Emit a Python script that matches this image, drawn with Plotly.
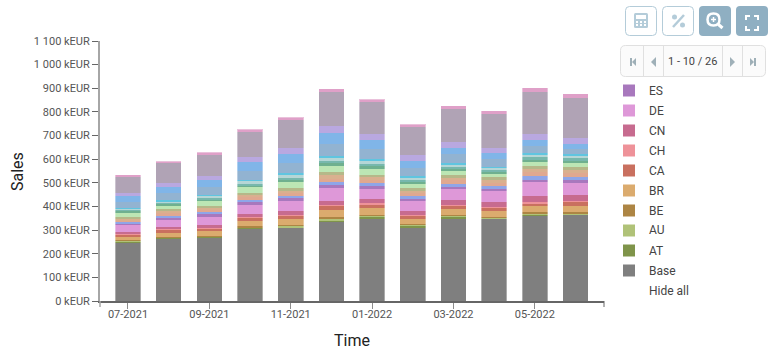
import plotly.graph_objects as go

W, H = 774, 360
months = ["07-2021","08-2021","09-2021","10-2021","11-2021","12-2021","01-2022","02-2022","03-2022","04-2022","05-2022","06-2022"]
tick_months = ["07-2021","09-2021","11-2021","01-2022","03-2022","05-2022"]
y_ticks = [0,100,200,300,400,500,600,700,800,900,1000,1100]
y_labels = ["0 kEUR","100 kEUR","200 kEUR","300 kEUR","400 kEUR","500 kEUR","600 kEUR","700 kEUR","800 kEUR","900 kEUR","1 000 kEUR","1 100 kEUR"]

Base = [247,263,268,306,310,338,351,313,351,347,362,364]
AT = [6,4,3,4,3,4,8,7,7,4,4,4]
AU = [1.5,1.5,1.5,3,7,6,3,4,3,3,3,3]
BE = [4,1.5,4,3,3,7,3,3,3,3,7,6]
BR = [14,18,20,22,24,30,28,20,25,24,24,27]
CA = [10,13,11,14,14,18,17,14,15,14,14,15]
CH = [3,4,3,3,4,4,4,4,4,3,4,4]
CN = [7,7,13,13,17,17,17,17,20,20,25,24]
DE = [30,34,34,39,42,52,41,42,45,48,60,53]
ES = [6,8,10,11,11,13,14,7,11,8,11,11]
FI = [6,6,10,10,11,15,13,13,11,13,13,13]
FR = [8,11,8,13,11,14,14,13,15,13,17,18]
GB = [4,10,7,7,10,14,11,8,11,11,15,13]
HK = [10,7,10,10,13,13,11,13,10,14,11,13]
IE = [20,15,22,25,24,27,27,20,21,15,17,17]
IN = [7,8,6,7,10,10,8,7,8,7,10,8]
IT = [3,6,7,7,8,11,11,10,8,10,11,10]
JP = [3,6,7,13,14,14,15,8,11,7,11,11]
KR = [4,4,6,4,6,6,4,4,4,4,7,6]
MX = [27,28,32,35,41,51,41,35,37,32,30,22]
NL = [22,27,31,38,39,45,42,30,28,25,24,22]
NO = [13,18,15,21,24,30,25,24,25,24,28,25]
SE = [72,84,91,111,120,146,132,121,141,142,177,170]
SG = [7,8,10,8,11,14,13,11,13,14,17,17]

series = [
    ("Base",Base,"#7f7f7f"),("AT",AT,"#7f944a"),("AU",AU,"#b0c278"),("BE",BE,"#ad8544"),
    ("BR",BR,"#dbab6e"),("CA",CA,"#c9705f"),("CH",CH,"#ee9299"),("CN",CN,"#c76b8f"),
    ("DE",DE,"#de98d8"),("ES",ES,"#a878bd"),("FI",FI,"#8fa5e8"),("FR",FR,"#e0a890"),
    ("GB",GB,"#d9b08f"),("HK",HK,"#b5b889"),("IE",IE,"#bce6b4"),("IN",IN,"#6fb08f"),
    ("IT",IT,"#77b8ad"),("JP",JP,"#b5d6d6"),("KR",KR,"#5fc5e0"),("MX",MX,"#92b3d1"),
    ("NL",NL,"#80b5e8"),("NO",NO,"#b9a8e0"),("SE",SE,"#b0a3b5"),("SG",SG,"#dfa0c8"),
]
legend_names = ["ES","DE","CN","CH","CA","BR","BE","AU","AT","Base"]
colors = {n:c for n,_,c in series}

fig = go.Figure()
for n, v, c in series:
    fig.add_bar(x=months, y=v, name=n, marker=dict(color=c, line=dict(width=0)), width=0.63, showlegend=False)
totals = [sum(v[i] for _, v, _c in series) for i in range(len(months))]
fig.add_bar(x=months, y=totals, name="edge", yaxis="y2", width=0.63, showlegend=False, hoverinfo="skip",
            marker=dict(color="rgba(0,0,0,0)", line=dict(width=1, color="rgba(255,255,255,0.35)")))

def px(x): return x/W
def py(y): return 1-y/H
def rrect(x0,y0,x1,y1,r):
    return (f"M{px(x0+r)},{py(y0)} L{px(x1-r)},{py(y0)} Q{px(x1)},{py(y0)} {px(x1)},{py(y0+r)} "
            f"L{px(x1)},{py(y1-r)} Q{px(x1)},{py(y1)} {px(x1-r)},{py(y1)} L{px(x0+r)},{py(y1)} "
            f"Q{px(x0)},{py(y1)} {px(x0)},{py(y1-r)} L{px(x0)},{py(y0+r)} Q{px(x0)},{py(y0)} {px(x0+r)},{py(y0)} Z")
shapes=[]
def path(d, fill="rgba(0,0,0,0)", line=None, lw=1):
    shapes.append(dict(type="path", xref="paper", yref="paper", path=d, fillcolor=fill,
                       line=dict(color=line or "rgba(0,0,0,0)", width=lw if line else 0), layer="above"))
def rect(x0,y0,x1,y1,fill,line=None,lw=1):
    shapes.append(dict(type="rect", xref="paper", yref="paper", x0=px(x0), x1=px(x1), y0=py(y0), y1=py(y1),
                       fillcolor=fill, line=dict(color=line or "rgba(0,0,0,0)", width=lw if line else 0), layer="above"))
def poly(pts, fill):
    d="M"+" L".join(f"{px(a)},{py(b)}" for a,b in pts)+" Z"
    path(d, fill)
def seg(x0,y0,x1,y1,color,lw):
    shapes.append(dict(type="line", xref="paper", yref="paper", x0=px(x0), x1=px(x1), y0=py(y0), y1=py(y1),
                       line=dict(color=color,width=lw), layer="above"))

LIGHT="#b4ccd9"; SOLID="#8fafc2"
path(rrect(625.5,6.5,656.5,35.5,4),"#ffffff",LIGHT,1)
path(rrect(662.5,6.5,693.5,35.5,4),"#ffffff",LIGHT,1)
path(rrect(699,6,731,36,4),SOLID)
path(rrect(736,6,768,36,4),SOLID)
path(rrect(634,13,648,28,1.5),LIGHT)
rect(636,15,646,19,"#ffffff")
for yy in (21,24):
    for xx in (636,640,644):
        rect(xx,yy,xx+2,yy+2,"#ffffff")
seg(673,27,684,15,LIGHT,2.5)
path(rrect(672,14.5,677,19.5,2.5),LIGHT)
path(rrect(680,22.5,685,27.5,2.5),LIGHT)
path(rrect(707.5,13.5,719.5,25.5,6),"rgba(0,0,0,0)","#ffffff",2.5)
seg(718.5,24.5,722.5,28,"#ffffff",3)
seg(711,19.5,716,19.5,"#ffffff",1.5)
seg(713.5,17,713.5,22,"#ffffff",1.5)
for a,b,c,d in [(746,20,750,16),(758,20,754,16),(746,26,750,30),(758,26,754,30)]:
    path(f"M{px(a)},{py(b)} L{px(a)},{py(d)} L{px(c)},{py(d)}","rgba(0,0,0,0)","#ffffff",2)
path(rrect(620.5,45.5,765.5,76.5,5),"#fbfbfb","#e0e0e0",1)
for xx in (643.5,663.5,722.5,742.5):
    seg(xx,45.5,xx,76.5,"#e0e0e0",1)
ICON="#9fb0b8"
rect(630,58,632,66,ICON); poly([(636,58),(636,66),(632,62)],ICON)
poly([(656,57),(656,67),(651,62)],ICON)
poly([(730,57),(730,67),(735,62)],ICON)
rect(754,58,756,66,ICON); poly([(750,58),(750,66),(754,62)],ICON)
seg(604,301,604,307,"#666666",1)
seg(100,301,100,307,"#a6a6a6",1.5)

ann=[]
def text(x,y,t,size=12,color="#444444",anchor="left",angle=0):
    ann.append(dict(x=px(x),y=py(y),xref="paper",yref="paper",text=t,showarrow=False,xanchor=anchor,yanchor="middle",
                    textangle=angle,font=dict(family="Roboto",size=size,color=color)))
for i,n in enumerate(legend_names):
    yc=90.5+20*i
    rect(623,yc-6,635,yc+6,colors[n])
    text(646.5,yc,n)
text(646.5,290.5,"Hide all")
text(692.5,61.5,"1 - 10 / 26",size=11,color="#444444",anchor="center")
text(352,340,"Time",size=16,color="#222222",anchor="center")
text(17,172,"Sales",size=16,color="#222222",anchor="center",angle=-90)

y_domain=[1-301/H,1-41/H]
fig.update_layout(
    width=W,height=H,autosize=False,barmode="stack",bargap=0.37,
    margin=dict(l=0,r=0,t=0,b=0),plot_bgcolor="white",paper_bgcolor="white",
    font=dict(family="Roboto",size=11,color="#555555"),
    shapes=shapes,annotations=ann,
    xaxis=dict(domain=[100/W,604/W],type="category",categoryorder="array",categoryarray=months,automargin=False,
               range=[-0.688,11.7],tickmode="array",tickvals=tick_months,ticktext=tick_months,ticklabelstandoff=-4,
               ticks="outside",ticklen=6,tickcolor="#8c8c8c",tickwidth=1,showline=True,linecolor="#666666",linewidth=2,
               showgrid=False,zeroline=False,tickfont=dict(family="Roboto",size=11,color="#555555")),
    yaxis=dict(domain=y_domain,range=[0,1100],tickmode="array",tickvals=y_ticks,ticktext=y_labels,automargin=False,
               ticks="outside",ticklen=6,tickcolor="#666666",tickwidth=1,showline=True,linecolor="#a6a6a6",linewidth=2,
               showgrid=False,zeroline=False,tickfont=dict(family="Roboto",size=11,color="#555555")),
    yaxis2=dict(overlaying="y",range=[0,1100],visible=False,automargin=False),
)
fig.write_html("out.html",config={"displayModeBar":False},
               post_script="document.body.style.margin='0';document.body.style.overflow='hidden';")
